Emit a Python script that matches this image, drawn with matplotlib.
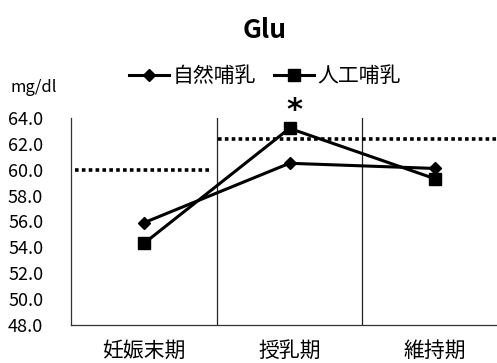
#!/usr/bin/env python3
"""Glu levels by period for natural vs. formula feeding."""

import matplotlib

matplotlib.use("Agg")
import matplotlib.pyplot as plt
from matplotlib.lines import Line2D

plt.rcParams["font.family"] = ["Noto Sans CJK JP", "DejaVu Sans"]
plt.rcParams["axes.unicode_minus"] = False

periods = ["妊娠末期", "授乳期", "維持期"]
natural = [55.9, 60.5, 60.1]
formula = [54.3, 63.2, 59.3]
ref_early = 60.0
ref_late = 62.4
y_ticks = [48.0, 50.0, 52.0, 54.0, 56.0, 58.0, 60.0, 62.0, 64.0]

W, H = 497, 363
fig = plt.figure(figsize=(W / 100, H / 100), dpi=100)
fig.patch.set_facecolor("white")

# plot area runs past the right edge of the figure
left, right, top, bottom = 71, 508, 118, 325
ax = fig.add_axes([left / W, 1 - bottom / H, (right - left) / W, (bottom - top) / H])

x = list(range(len(periods)))
ax.plot(x, natural, color="black", linewidth=2.2, marker="D", markersize=6.5, zorder=4)
ax.plot(x, formula, color="black", linewidth=2.2, marker="s", markersize=8.5, zorder=4)

# reference levels
ax.plot([-0.47, 0.47], [ref_early, ref_early], color="black", linewidth=2.6,
        linestyle=(0, (1.0, 0.9)), zorder=3)
ax.plot([0.51, 2.5], [ref_late, ref_late], color="black", linewidth=2.6,
        linestyle=(0, (1.0, 0.9)), zorder=3)

# period separators
for xs in (0.5, 1.5):
    ax.axvline(xs, color="#222222", linewidth=0.9, zorder=1)

ax.set_xlim(-0.5, 2.5)
ax.set_ylim(48, 64)
ax.set_yticks(y_ticks)
ax.set_yticklabels([f"{v:.1f}" for v in y_ticks], fontsize=13)
ax.set_xticks(x)
ax.set_xticklabels(periods, fontsize=15)
ax.tick_params(axis="y", length=0, pad=20)
ax.tick_params(axis="x", length=0, pad=11)

for side in ("top", "right"):
    ax.spines[side].set_visible(False)
for side in ("left", "bottom"):
    ax.spines[side].set_linewidth(0.9)
    ax.spines[side].set_color("#333333")

# significance mark above the formula-fed peak
ax.text(1.03, 64.55, "*", ha="center", va="center", fontsize=22, fontweight="bold",
        family=["DejaVu Sans"], clip_on=False)

fig.text(265 / W, 1 - 31 / H, "Glu", ha="center", va="center", fontsize=19,
         fontweight="bold")
fig.text(10 / W, 1 - 87 / H, "mg/dl", ha="left", va="center", fontsize=12)

handles = [
    Line2D([0], [0], color="black", linewidth=2.2, marker="D", markersize=6.5, label="自然哺乳"),
    Line2D([0], [0], color="black", linewidth=2.2, marker="s", markersize=8.5, label="人工哺乳"),
]
fig.legend(handles=handles, loc="center", bbox_to_anchor=(265 / W, 1 - 76 / H), ncol=2,
           frameon=False, fontsize=15, handlelength=1.9, handletextpad=0.15,
           columnspacing=0.9, borderpad=0)

fig.savefig("out.png", dpi=100, facecolor="white")
